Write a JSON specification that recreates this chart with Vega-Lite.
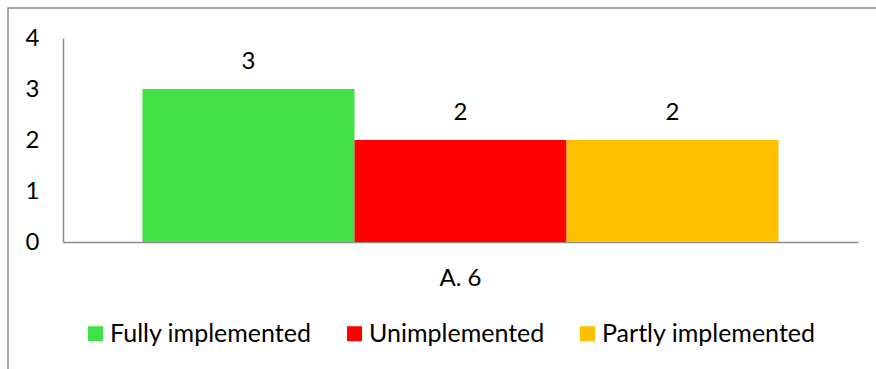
{
  "$schema": "https://vega.github.io/schema/vega-lite/v6.json",
  "autosize": "none",
  "width": 900,
  "height": 400,
  "padding": {"left": 8, "top": 8, "right": 0, "bottom": 0},
  "background": "white",
  "config": {
    "view": {"stroke": "#8c8c8c", "strokeWidth": 1.5},
    "font": "Lato"
  },
  "data": {
    "values": [
      {"cat": "A. 6", "status": "Fully implemented", "count": 3},
      {"cat": "A. 6", "status": "Unimplemented", "count": 2},
      {"cat": "A. 6", "status": "Partly implemented", "count": 2}
    ]
  },
  "encoding": {
    "x": {
      "field": "cat",
      "type": "nominal",
      "scale": {"range": [55, 850], "paddingInner": 0, "paddingOuter": 0.125},
      "axis": {
        "title": null,
        "orient": "bottom",
        "offset": -166,
        "labelAngle": 0,
        "labelFont": "Lato",
        "labelFontSize": 24,
        "labelColor": "#000000",
        "labelPadding": 24,
        "ticks": false,
        "domainColor": "#8c8c8c",
        "domainWidth": 1.5
      }
    },
    "xOffset": {
      "field": "status",
      "type": "nominal",
      "sort": ["Fully implemented", "Unimplemented", "Partly implemented"],
      "scale": {"paddingInner": 0, "paddingOuter": 0}
    },
    "color": {
      "field": "status",
      "type": "nominal",
      "sort": ["Fully implemented", "Unimplemented", "Partly implemented"],
      "scale": {
        "domain": ["Fully implemented", "Unimplemented", "Partly implemented"],
        "range": ["#41e046", "#ff0000", "#ffc000"]
      },
      "legend": {
        "title": null,
        "orient": "none",
        "legendX": 75,
        "legendY": 313,
        "direction": "horizontal",
        "symbolType": "square",
        "symbolSize": 225,
        "symbolStrokeWidth": 0,
        "symbolOpacity": 1,
        "labelFont": "Lato",
        "labelFontSize": 25,
        "labelColor": "#000000",
        "labelOffset": 2,
        "columnPadding": 30,
        "labelLimit": 400
      }
    }
  },
  "layer": [
    {
      "mark": {"type": "bar", "opacity": 1},
      "encoding": {
        "y": {
          "field": "count",
          "type": "quantitative",
          "scale": {"domain": [0, 4], "range": [234, 30], "nice": false},
          "axis": {
            "title": null,
            "orient": "left",
            "offset": -55,
            "values": [0, 1, 2, 3, 4],
            "format": "d",
            "grid": false,
            "ticks": false,
            "labelFont": "Lato",
            "labelFontSize": 24,
            "labelColor": "#000000",
            "labelPadding": 24,
            "domainColor": "#8c8c8c",
            "domainWidth": 1.5
          }
        }
      }
    },
    {
      "mark": {"type": "text", "baseline": "middle", "dy": -27, "fontSize": 24, "font": "Lato", "color": "#000000"},
      "encoding": {
        "y": {"field": "count", "type": "quantitative"},
        "text": {"field": "count", "type": "quantitative"},
        "color": {"value": "#000000"}
      }
    }
  ]
}
